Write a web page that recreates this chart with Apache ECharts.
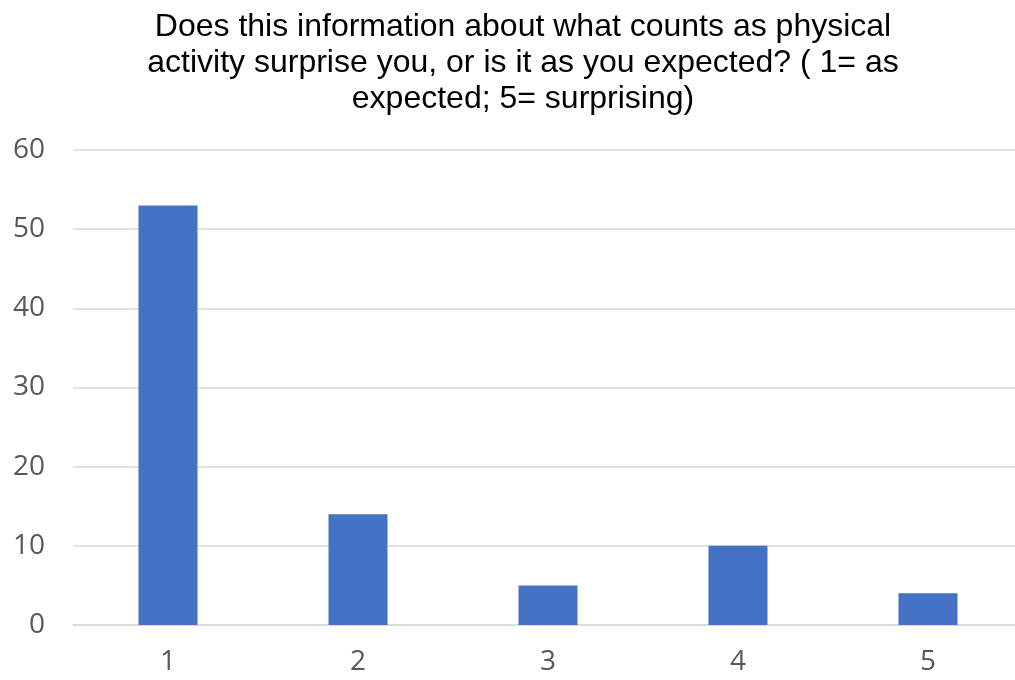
<!DOCTYPE html>
<html>
<head>
<meta charset="utf-8">
<script src="https://cdn.jsdelivr.net/npm/echarts@6/dist/echarts.min.js"></script>
<style>
  html, body { margin: 0; padding: 0; background: #fff; }
  #chart { width: 1015px; height: 680px; }
</style>
</head>
<body>
<div id="chart"></div>
<script>
  // answers on the 1-5 scale
  var categories = ['1', '2', '3', '4', '5'];
  var counts = [53, 14, 5, 10, 4];
  var titleText = 'Does this information about what counts as physical\nactivity surprise you, or is it as you expected? ( 1= as\nexpected; 5= surprising)';

  var myChart = echarts.init(document.getElementById('chart'));
  myChart.setOption({
    backgroundColor: '#ffffff',
    animation: false,
    title: {
      text: titleText,
      left: 518,
      textAlign: 'center',
      top: 4,
      textStyle: {
        fontFamily: 'Liberation Sans, Arial',
        fontSize: 32,
        fontWeight: 'normal',
        color: '#000000',
        lineHeight: 36
      }
    },
    grid: {
      left: 73,
      top: 150,
      width: 950,
      height: 475,
      outerBoundsMode: 'none'   // chart is cropped on the right, don't squeeze it in
    },
    xAxis: {
      type: 'category',
      data: categories,
      axisLine: { lineStyle: { color: '#d9d9d9', width: 1.5 } },
      axisTick: { show: false },
      axisLabel: {
        margin: 23,
        fontFamily: 'Open Sans',
        fontSize: 28,
        color: '#595959'
      }
    },
    yAxis: {
      type: 'value',
      min: 0,
      max: 60,
      interval: 10,
      axisLine: { show: false },
      axisTick: { show: false },
      splitLine: { lineStyle: { color: '#d9d9d9', width: 1.5 } },
      axisLabel: {
        margin: 28,
        fontFamily: 'Open Sans',
        fontSize: 28,
        color: '#595959'
      }
    },
    series: [{
      type: 'bar',
      data: counts,
      barWidth: 59,
      itemStyle: { color: '#4472c4' }
    }]
  });
</script>
</body>
</html>
